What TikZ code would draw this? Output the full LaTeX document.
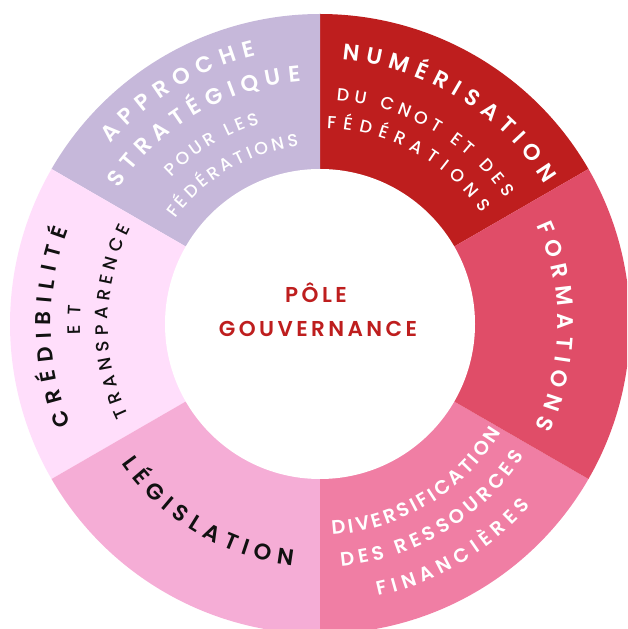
\documentclass[tikz,border=0pt]{standalone}
\usepackage{fontspec}
\setmainfont{Poppins}
\newfontfamily\psb{Poppins SemiBold}
\newfontfamily\pmd{Poppins Medium}
\newfontfamily\pctr[LetterSpace=16]{Poppins SemiBold}
\usetikzlibrary{decorations.text}
\definecolor{cApp}{HTML}{C6B8DA}
\definecolor{cNum}{HTML}{BE1E1E}
\definecolor{cFor}{HTML}{E04D68}
\definecolor{cDiv}{HTML}{F07EA4}
\definecolor{cLeg}{HTML}{F5ADD6}
\definecolor{cCre}{HTML}{FFDEFB}
\definecolor{cTxt}{HTML}{BE1E1E}
\definecolor{cDark}{HTML}{111111}
\newcommand\ringtext[6]{%
  \path[shift={(C)}, decorate, decoration={text along path, text align=fit to path,
    text color=#4, text={|#5|#6}}] (#2:#1pt) arc[start angle=#2, end angle=#3, radius=#1pt];}
\newcommand\fbig{\fontsize{22.5}{22.5}\psb}
\newcommand\fmid{\fontsize{19.5}{19.5}\psb}
\newcommand\fsmall{\fontsize{17.5}{17.5}\pmd}
\begin{document}
\begin{tikzpicture}[x=1pt,y=1pt]
\useasboundingbox (0,0) rectangle (627,629);
\clip (0,0) rectangle (627,629);
\coordinate (C) at (320,305);
% sectors
\fill[cNum] (C) -- ++(30:310) arc[start angle=30, end angle=90, radius=310] -- cycle;
\fill[cApp] (C) -- ++(90:310) arc[start angle=90, end angle=150, radius=310] -- cycle;
\fill[cCre] (C) -- ++(150:310) arc[start angle=150, end angle=210, radius=310] -- cycle;
\fill[cLeg] (C) -- ++(210:310) arc[start angle=210, end angle=270, radius=310] -- cycle;
\fill[cDiv] (C) -- ++(270:310) arc[start angle=270, end angle=330, radius=310] -- cycle;
\fill[cFor] (C) -- ++(-30:310) arc[start angle=-30, end angle=30, radius=310] -- cycle;
\fill[white] (C) circle[radius=155];
% Numerisation
\ringtext{265}{85.2}{31.9}{white}{\fbig}{NUMÉRISATION}
\ringtext{224}{85.8}{34.2}{white}{\fsmall}{DU CNOT ET DES}
\ringtext{196}{88}{34.4}{white}{\fsmall}{FÉDÉRATIONS}
% Formations
\ringtext{238}{24.5}{-25.6}{white}{\fbig}{FORMATIONS}
% Diversification
\ringtext{211}{-86.7}{-30.9}{white}{\fmid}{DIVERSIFICATION}
\ringtext{243}{-85}{-32.8}{white}{\fmid}{DES RESSOURCES}
\ringtext{278}{-78}{-40.7}{white}{\fmid}{FINANCIÈRES}
% Legislation
\ringtext{243}{215.1}{263.5}{cDark}{\fbig}{LÉGISLATION}
% Credibilite
\ringtext{269}{201.9}{159.4}{cDark}{\fontsize{21.5}{21.5}\psb}{CRÉDIBILITÉ}
\ringtext{240}{182.6}{175.6}{cDark}{\fontsize{18}{18}\pmd}{ET}
\ringtext{212}{205.7}{153}{cDark}{\fontsize{18}{18}\pmd}{TRANSPARENCE}
% Approche
\ringtext{276}{139.3}{103.3}{white}{\fbig}{APPROCHE}
\ringtext{243}{146.1}{94.5}{white}{\fbig}{STRATÉGIQUE}
\ringtext{209}{135.4}{106.8}{white}{\fsmall}{POUR LES}
\ringtext{179}{144}{96.8}{white}{\fsmall}{FÉDÉRATIONS}
% centre
\node[anchor=base, text=cTxt, font=\fontsize{21.5}{21.5}\pctr, inner sep=0] (pole) at (316,326) {PÔLE};
\node[anchor=base, text=cTxt, font=\fontsize{21.5}{21.5}\pctr, inner sep=0] (gouv) at (318,292) {GOUVERNANCE};
\end{tikzpicture}
\end{document}
